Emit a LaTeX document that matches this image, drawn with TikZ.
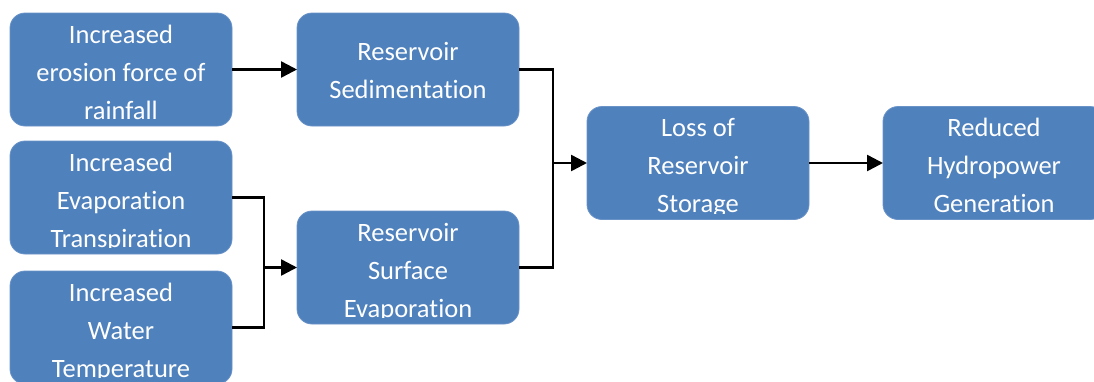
\documentclass[tikz,border=0pt]{standalone}
\usepackage{fontspec}
\setmainfont{Carlito}[Ligatures=NoCommon]
\usetikzlibrary{arrows.meta}
\definecolor{boxblue}{HTML}{4F81BD}
\definecolor{boxedge}{HTML}{6A93C8}
\begin{document}
\begin{tikzpicture}[x=1pt,y=-1pt,
  box/.style={fill=boxblue, draw=boxedge, line width=0.8pt, rounded corners=15pt,
    minimum width=222pt, minimum height=113pt, inner sep=0pt, outer sep=0pt},
  txt/.style={text=white, font=\fontsize{26.5}{38}\selectfont, align=center,
    inner sep=0pt, anchor=base},
  conn/.style={line width=2.5pt, black, line join=miter},
  arr/.style={conn, -{Triangle[length=16pt,width=16pt]}}]
\useasboundingbox (0,0) rectangle (1094,381);
\clip (0,0) rectangle (1094,381);
% boxes
\node[box] (a1) at (121,69.5) {};
\node[box] (a2) at (121,197.5) {};
\node[box] (a3) at (121,327.5) {};
\node[box] (b1) at (408,69.5) {};
\node[box] (b2) at (408,267.5) {};
\node[box] (c)  at (698,163) {};
\node[box] (d)  at (994,163) {};
% texts (anchor = baseline of the last line), clipped a little above each box bottom
\begin{scope}
  \clip (a1.north west) rectangle ([yshift=6.5pt]a1.south east);
  \node[txt] (ta1) at ([yshift=-106pt]a1.north) {Increased\\erosion force of\\rainfall};
\end{scope}
\begin{scope}
  \clip (a2.north west) rectangle ([yshift=6.5pt]a2.south east);
  \node[txt] (ta2) at ([yshift=-106pt]a2.north) {Increased\\Evaporation\\Transpiration};
\end{scope}
\begin{scope}
  \clip (a3.north west) rectangle ([yshift=6.5pt]a3.south east);
  \node[txt] (ta3) at ([yshift=-106pt]a3.north) {Increased\\Water\\Temperature};
\end{scope}
\begin{scope}
  \clip (b1.north west) rectangle ([yshift=6.5pt]b1.south east);
  \node[txt] (tb1) at ([yshift=-85pt]b1.north) {Reservoir\\Sedimentation};
\end{scope}
\begin{scope}
  \clip (b2.north west) rectangle ([yshift=6.5pt]b2.south east);
  \node[txt] (tb2) at ([yshift=-106pt]b2.north) {Reservoir\\Surface\\Evaporation};
\end{scope}
\begin{scope}
  \clip (c.north west) rectangle ([yshift=6.5pt]c.south east);
  \node[txt] (tc) at ([yshift=-106pt]c.north) {Loss of\\Reservoir\\Storage};
\end{scope}
\begin{scope}
  \clip (d.north west) rectangle ([yshift=6.5pt]d.south east);
  \node[txt] (td) at ([yshift=-106pt]d.north) {Reduced\\Hydropower\\Generation};
\end{scope}
% junctions
\coordinate (j1) at (264,267.5);
\coordinate (j2) at (553,163);
% connectors
\draw[arr] (a1.east) -- (b1.west);
\draw[conn] (a2.east) -| (j1);
\draw[conn] (a3.east) -| (j1);
\draw[arr] (j1) -- (b2.west);
\draw[conn] (b1.east) -| (j2);
\draw[conn] (b2.east) -| (j2);
\draw[arr] (j2) -- (c.west);
\draw[arr] (c.east) -- (d.west);
\end{tikzpicture}
\end{document}
